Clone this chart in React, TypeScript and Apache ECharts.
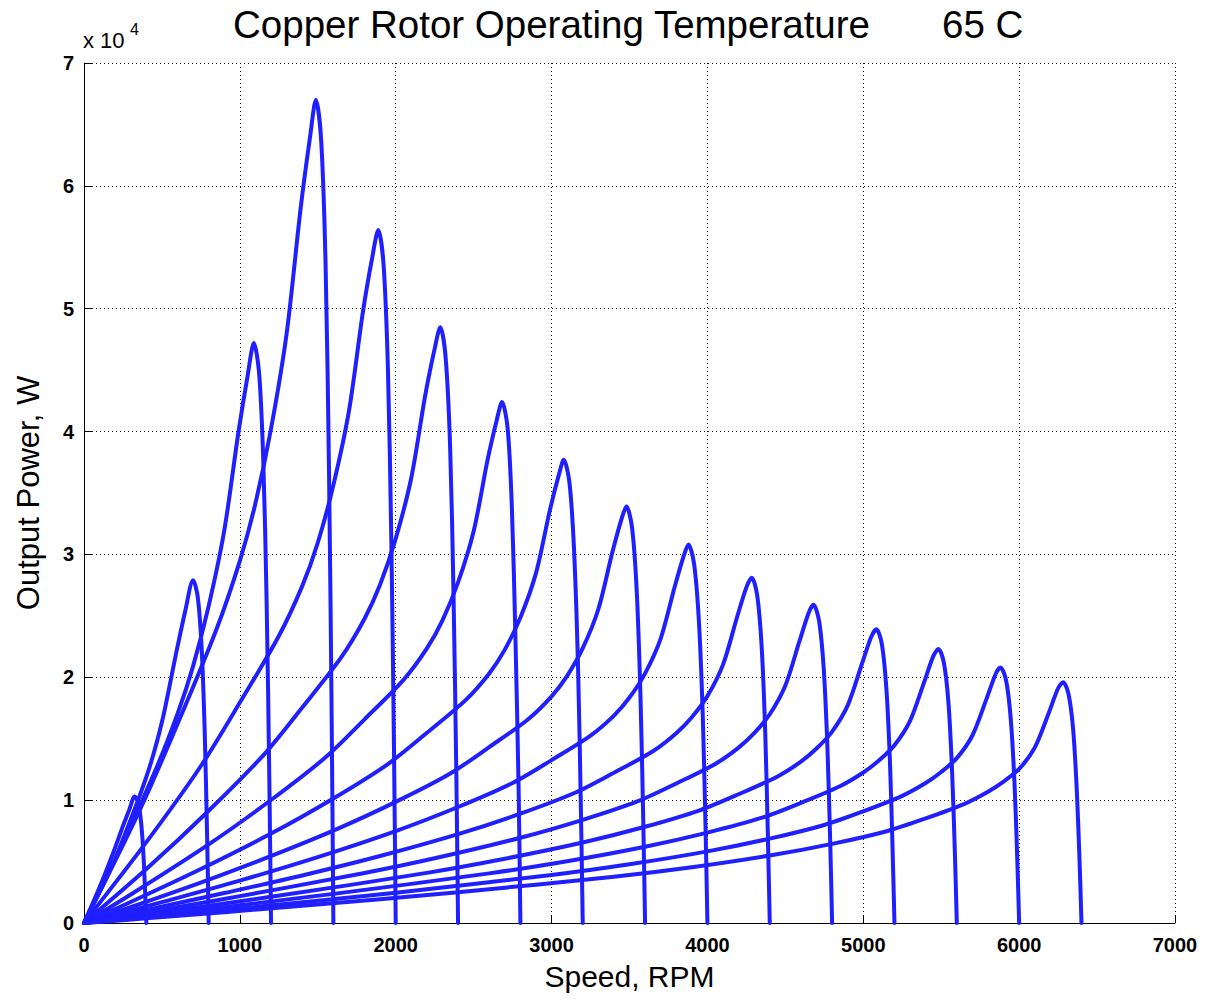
import React, { useEffect, useRef } from "react";
import * as echarts from "echarts";

const titleText = "Copper Rotor Operating Temperature";
const tempText = "65 C";
const xName = "Speed, RPM";
const yName = "Output Power, W";
const xTicks = [0, 1000, 2000, 3000, 4000, 5000, 6000, 7000];
const yTicks = [0, 10000, 20000, 30000, 40000, 50000, 60000, 70000];

const curve400 = [[0,0],[100,2900],[190,5800],[250,7900],[290,9200],[325,10300],[348,9790],[366,8240],[381,5670],[392,2580],[400,0]];
const curve800 = [[0,0],[100,2530],[200,5230],[400,11890],[500,16360],[590,21890],[650,25420],[700,27900],[730,26510],[755,22320],[775,15350],[790,6980],[800,0]];
const curve1200 = [[0,0],[200,5200],[450,12180],[600,17020],[700,20910],[800,25810],[900,31950],[990,39870],[1050,44560],[1090,47200],[1123,44840],[1150,37760],[1172,25960],[1189,11800],[1200,0]];
const curve1600 = [[0,0],[350,8980],[600,16200],[850,23910],[1000,29480],[1100,34160],[1200,40230],[1300,47970],[1390,58170],[1450,63950],[1488,67000],[1522,63650],[1550,53600],[1572,36850],[1589,16750],[1600,0]];
const curve2000 = [[0,0],[400,6580],[750,12780],[1000,17940],[1250,23360],[1400,27420],[1500,30950],[1600,35640],[1700,41680],[1790,49770],[1850,54210],[1888,56400],[1922,53580],[1950,45120],[1972,31020],[1989,14100],[2000,0]];
const curve2400 = [[0,0],[400,4390],[800,9140],[1150,13650],[1400,17540],[1650,21620],[1800,24770],[1900,27550],[2000,31290],[2100,36240],[2190,42990],[2250,46750],[2286,48500],[2320,46080],[2349,38800],[2371,26680],[2389,12130],[2400,0]];
const curve2800 = [[0,0],[300,2320],[800,6400],[1200,10010],[1550,13490],[1800,16580],[2050,19790],[2200,22350],[2300,24640],[2400,27720],[2500,31880],[2590,37730],[2650,41030],[2682,42400],[2718,40280],[2745,33920],[2768,23320],[2789,10600],[2800,0]];
const curve3200 = [[0,0],[200,1130],[700,4090],[1200,7280],[1600,10140],[1950,12940],[2200,15480],[2450,18160],[2600,20310],[2700,22250],[2800,24870],[2900,28480],[2990,33650],[3050,36640],[3078,37700],[3115,35820],[3145,30160],[3170,20740],[3188,9430],[3200,0]];
const curve3600 = [[0,0],[600,2610],[1100,4960],[1600,7520],[2000,9860],[2350,12170],[2600,14320],[2850,16590],[3000,18450],[3100,20120],[3200,22370],[3300,25540],[3390,30170],[3450,32930],[3480,33900],[3516,32210],[3546,27120],[3570,18650],[3588,8480],[3600,0]];
const curve4000 = [[0,0],[500,1700],[1000,3450],[1500,5360],[2000,7480],[2400,9440],[2750,11400],[3000,13260],[3250,15250],[3400,16880],[3500,18350],[3600,20320],[3700,23150],[3790,27370],[3850,29960],[3878,30800],[3914,29260],[3945,24640],[3970,16940],[3988,7700],[4000,0]];
const curve4400 = [[0,0],[400,1060],[900,2440],[1400,3870],[1900,5450],[2400,7230],[2800,8900],[3150,10600],[3400,12230],[3650,13980],[3800,15450],[3900,16750],[4000,18470],[4100,21030],[4190,24890],[4250,27320],[4284,28100],[4319,26700],[4348,22480],[4371,15460],[4388,7030],[4400,0]];
const curve4800 = [[0,0],[300,640],[800,1730],[1800,4070],[2300,5410],[2800,6940],[3200,8400],[3550,9900],[3800,11360],[4050,12950],[4200,14280],[4300,15450],[4400,16990],[4500,19330],[4590,22920],[4650,25250],[4680,25900],[4716,24610],[4746,20720],[4770,14250],[4788,6480],[4800,0]];
const curve5200 = [[0,0],[200,340],[1200,2130],[2200,4080],[2700,5230],[3200,6550],[3600,7830],[3950,9170],[4200,10480],[4450,11930],[4600,13140],[4700,14200],[4800,15580],[4900,17710],[4990,21040],[5050,23260],[5084,23900],[5119,22710],[5148,19120],[5171,13150],[5188,5980],[5200,0]];
const curve5600 = [[0,0],[600,850],[1600,2370],[2600,4040],[3100,5030],[3600,6210],[4000,7360],[4350,8570],[4600,9780],[4850,11130],[5000,12250],[5100,13220],[5200,14470],[5300,16450],[5390,19590],[5450,21740],[5482,22300],[5517,21190],[5547,17840],[5570,12270],[5588,5580],[5600,0]];
const curve6000 = [[0,0],[500,580],[1000,1180],[2000,2470],[3000,3910],[3500,4780],[4000,5830],[4400,6870],[4750,7980],[5000,9090],[5250,10350],[5400,11390],[5500,12290],[5600,13420],[5700,15260],[5790,18220],[5850,20290],[5880,20800],[5916,19760],[5946,16640],[5970,11440],[5988,5200],[6000,0]];
const curve6400 = [[0,0],[400,380],[1400,1400],[2400,2510],[3400,3770],[3900,4540],[4400,5490],[4800,6440],[5150,7470],[5400,8510],[5650,9700],[5800,10680],[5900,11510],[6000,12540],[6100,14270],[6190,17090],[6250,19110],[6282,19600],[6317,18620],[6347,15680],[6370,10780],[6388,4900],[6400,0]];

const curves = [curve400, curve800, curve1200, curve1600, curve2000, curve2400, curve2800, curve3200, curve3600, curve4000, curve4400, curve4800, curve5200, curve5600, curve6000, curve6400];

const FONT = "'Liberation Sans', Arial, Helvetica, sans-serif";
const BLUE = "#1f1fff";

export default function App() {
  const ref = useRef<HTMLDivElement>(null);
  useEffect(() => {
    if (!ref.current) return;
    const chart = echarts.init(ref.current, null, { renderer: "svg" });
    const xMin = xTicks[0], xMax = xTicks[xTicks.length - 1], xInt = xTicks[1] - xTicks[0];
    const yMin = yTicks[0], yMax = yTicks[yTicks.length - 1], yInt = yTicks[1] - yTicks[0];
    const axisLine = { show: true, onZero: false, lineStyle: { color: "#000", width: 1 } };
    const tick = { show: true, inside: true, length: 8, lineStyle: { color: "#000", width: 1 } };
    const split = { show: true, lineStyle: { color: "#111", type: [1, 3] as any, width: 1 } };
    chart.setOption({
      animation: false,
      backgroundColor: "#fff",
      grid: { left: 84, right: 30, top: 63, bottom: 78, containLabel: false },
      xAxis: {
        type: "value", min: xMin, max: xMax, interval: xInt, position: "bottom",
        axisLine, axisTick: tick, splitLine: split,
        axisLabel: { fontSize: 20, fontWeight: "bold", color: "#000", margin: 12, fontFamily: FONT, formatter: (v: number) => String(v) },
        name: xName, nameLocation: "middle", nameGap: 38,
        nameTextStyle: { fontSize: 30, color: "#000", fontFamily: FONT },
      },
      yAxis: {
        type: "value", min: yMin, max: yMax, interval: yInt, position: "left",
        axisLine, axisTick: tick, splitLine: split,
        axisLabel: { fontSize: 20, fontWeight: "bold", color: "#000", margin: 10, fontFamily: FONT, formatter: (v: number) => String(v / 10000) },
        name: yName, nameLocation: "middle", nameGap: 40,
        nameTextStyle: { fontSize: 31, color: "#000", fontFamily: FONT, padding: [0, 0, 0, 0] },
      },
      graphic: [
        { type: "text", left: 233, top: 5, style: { text: titleText, fontSize: 38.5, fill: "#000", fontFamily: FONT } },
        { type: "text", left: 942, top: 5, style: { text: tempText, fontSize: 38.5, fill: "#000", fontFamily: FONT } },
        { type: "text", left: 83, top: 29, style: { text: "x 10", fontSize: 22, fill: "#000", fontFamily: FONT } },
        { type: "text", left: 130, top: 21, style: { text: "4", fontSize: 16, fill: "#000", fontFamily: FONT } },
      ],
      series: curves.map((data, i) => ({
        type: "line",
        name: "curve" + i,
        data,
        symbol: "none",
        showSymbol: false,
        smooth: 0.3,
        lineStyle: { color: BLUE, width: 4, join: "round", cap: "round" },
        itemStyle: { color: BLUE },
        z: 3,
      })),
    });
    return () => chart.dispose();
  }, []);
  return <div ref={ref} style={{ position: "fixed", left: 0, top: 0, width: 1205, height: 1001, background: "#fff" }} />;
}
